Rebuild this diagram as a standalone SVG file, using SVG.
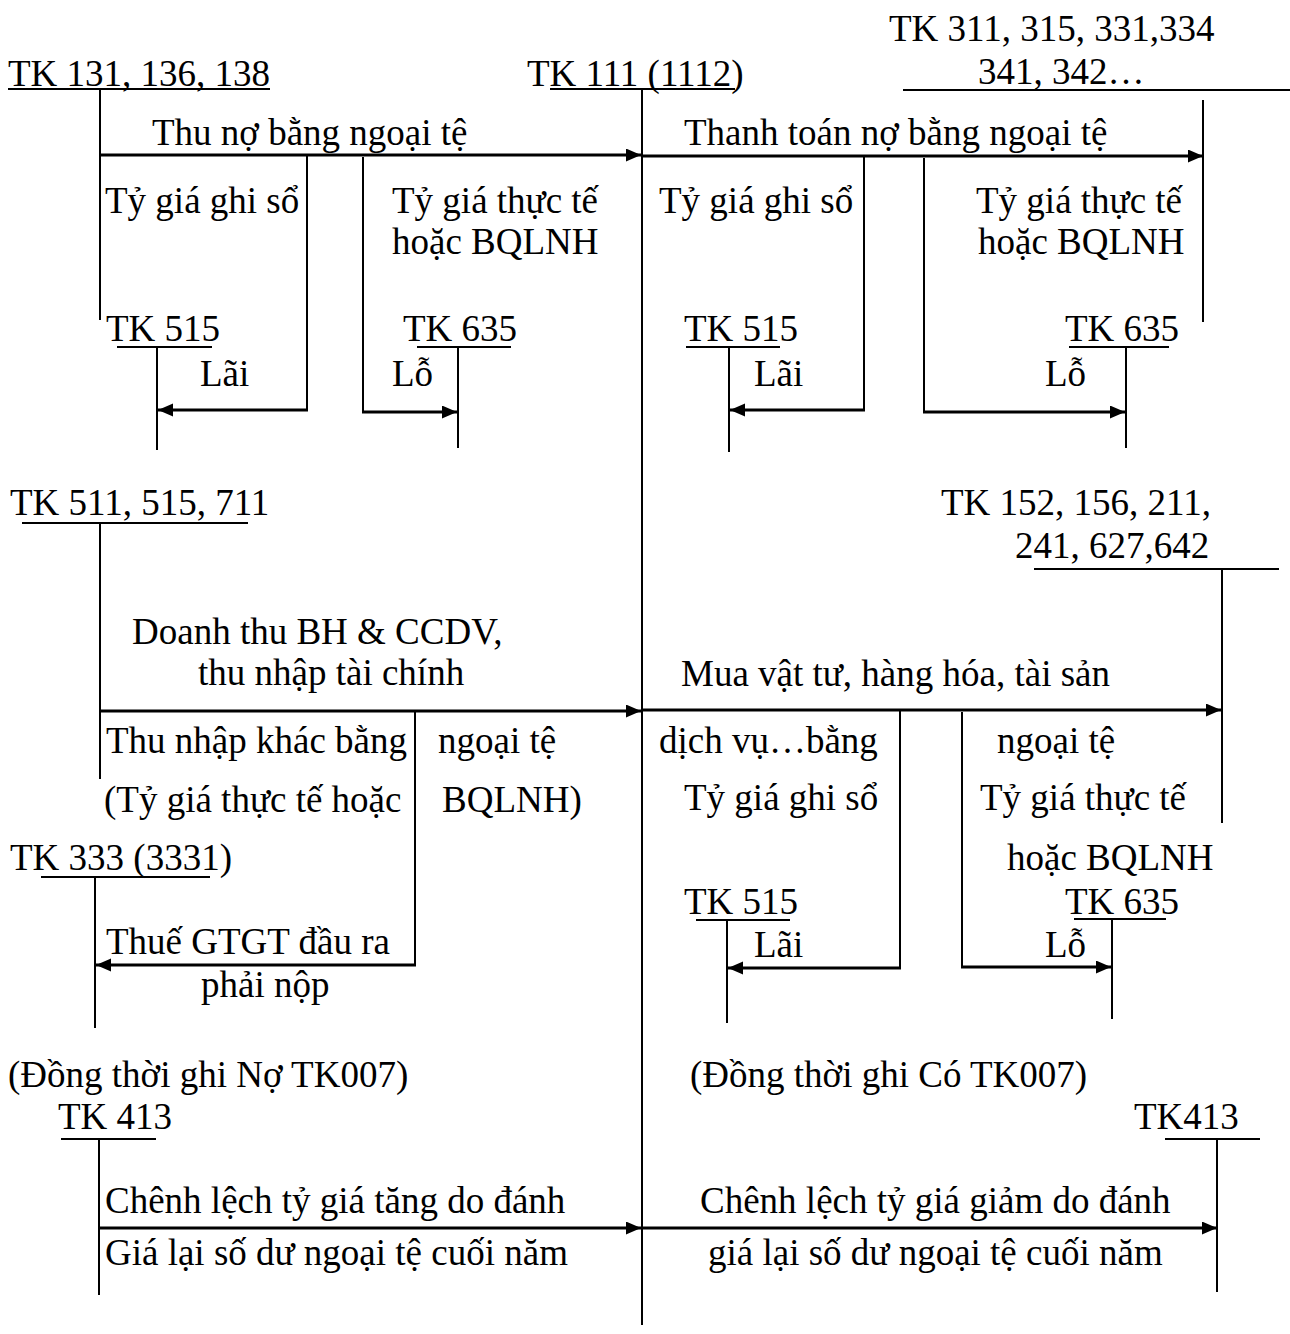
<svg xmlns="http://www.w3.org/2000/svg" width="1290" height="1334" viewBox="0 0 1290 1334">
<style>
text{font-family:"Liberation Serif","Times New Roman",serif;font-size:37px;fill:#000}
.ac{stroke:#000;stroke-width:2;fill:none}
.ar{stroke:#000;stroke-width:3;fill:none;marker-end:url(#ah)}
.br{stroke:#000;stroke-width:2;fill:none}
</style>
<defs>
<marker id="ah" markerUnits="userSpaceOnUse" markerWidth="16" markerHeight="14" refX="15" refY="6.5" orient="auto">
<path d="M0,0 L15,6.5 L0,13 z" fill="#000"/>
</marker>
</defs>
<rect width="1290" height="1334" fill="#fff"/>

<g id="tk131">
<text x="8" y="86">TK 131, 136, 138</text>
<line class="ac" x1="8" y1="89" x2="270" y2="89"/>
<line class="ac" x1="100" y1="88" x2="100" y2="320"/>
</g>
<g id="tk111">
<text x="527" y="86">TK 111 (1112)</text>
<line class="ac" x1="550" y1="89" x2="735" y2="89"/>
<line class="ac" x1="642" y1="88" x2="642" y2="1325"/>
</g>
<g id="tk311">
<text x="889" y="41">TK 311, 315, 331,334</text>
<text x="978" y="84">341, 342…</text>
<line class="ac" x1="903" y1="90" x2="1290" y2="90"/>
<line class="ac" x1="1203" y1="100" x2="1203" y2="322"/>
</g>
<g id="tk515a">
<text x="106" y="341">TK 515</text>
<line class="ac" x1="117" y1="347" x2="212" y2="347"/>
<line class="ac" x1="157" y1="347" x2="157" y2="450"/>
</g>
<g id="tk635a">
<text x="403" y="341">TK 635</text>
<line class="ac" x1="417" y1="347" x2="511" y2="347"/>
<line class="ac" x1="458" y1="347" x2="458" y2="448"/>
</g>
<g id="tk515b">
<text x="684" y="341">TK 515</text>
<line class="ac" x1="686" y1="347" x2="780" y2="347"/>
<line class="ac" x1="729" y1="347" x2="729" y2="452"/>
</g>
<g id="tk635b">
<text x="1065" y="341">TK 635</text>
<line class="ac" x1="1069" y1="347" x2="1169" y2="347"/>
<line class="ac" x1="1126" y1="347" x2="1126" y2="448"/>
</g>
<g id="tk511">
<text x="10" y="515">TK 511, 515, 711</text>
<line class="ac" x1="22" y1="523" x2="248" y2="523"/>
<line class="ac" x1="100" y1="523" x2="100" y2="779"/>
</g>
<g id="tk152">
<text x="941" y="515">TK 152, 156, 211,</text>
<text x="1015" y="558">241, 627,642</text>
<line class="ac" x1="1034" y1="569" x2="1279" y2="569"/>
<line class="ac" x1="1222" y1="569" x2="1222" y2="823"/>
</g>
<g id="tk333">
<text x="10" y="870">TK 333 (3331)</text>
<line class="ac" x1="41" y1="877" x2="210" y2="877"/>
<line class="ac" x1="95" y1="877" x2="95" y2="1028"/>
</g>
<g id="tk515c">
<text x="684" y="914">TK 515</text>
<line class="ac" x1="696" y1="920" x2="790" y2="920"/>
<line class="ac" x1="727" y1="920" x2="727" y2="1023"/>
</g>
<g id="tk635c">
<text x="1065" y="914">TK 635</text>
<line class="ac" x1="1074" y1="919" x2="1166" y2="919"/>
<line class="ac" x1="1112" y1="919" x2="1112" y2="1019"/>
</g>
<g id="tk413a">
<text x="58" y="1129">TK 413</text>
<line class="ac" x1="61" y1="1139" x2="156" y2="1139"/>
<line class="ac" x1="99" y1="1139" x2="99" y2="1295"/>
</g>
<g id="tk413b">
<text x="1134" y="1129">TK413</text>
<line class="ac" x1="1165" y1="1139" x2="1260" y2="1139"/>
<line class="ac" x1="1217" y1="1139" x2="1217" y2="1292"/>
</g>

<g id="connectors">
<line class="ar" x1="100" y1="155" x2="641" y2="155"/>
<line class="ar" x1="642" y1="156" x2="1203" y2="156"/>
<polyline class="br" points="307,155 307,410"/>
<line class="ar" x1="308" y1="410" x2="158" y2="410"/>
<polyline class="br" points="363,157 363,412"/>
<line class="ar" x1="362" y1="412" x2="457" y2="412"/>
<polyline class="br" points="864,156 864,410"/>
<line class="ar" x1="865" y1="410" x2="730" y2="410"/>
<polyline class="br" points="924,158 924,412"/>
<line class="ar" x1="923" y1="412" x2="1125" y2="412"/>
<line class="ar" x1="100" y1="711" x2="641" y2="711"/>
<line class="ar" x1="642" y1="710" x2="1221" y2="710"/>
<polyline class="br" points="415,711 415,965"/>
<line class="ar" x1="416" y1="965" x2="96" y2="965"/>
<polyline class="br" points="900,710 900,968"/>
<line class="ar" x1="901" y1="968" x2="728" y2="968"/>
<polyline class="br" points="962,712 962,967"/>
<line class="ar" x1="961" y1="967" x2="1111" y2="967"/>
<line class="ar" x1="100" y1="1228" x2="641" y2="1228"/>
<line class="ar" x1="642" y1="1228" x2="1217" y2="1228"/>
</g>

<g id="labels">
<text x="152" y="145">Thu nợ bằng ngoại tệ</text>
<text x="684" y="145">Thanh toán nợ bằng ngoại tệ</text>
<text x="105" y="213">Tỷ giá ghi sổ</text>
<text x="392" y="213">Tỷ giá thực tế</text>
<text x="392" y="254">hoặc BQLNH</text>
<text x="659" y="213">Tỷ giá ghi sổ</text>
<text x="976" y="213">Tỷ giá thực tế</text>
<text x="978" y="254">hoặc BQLNH</text>
<text x="200" y="386">Lãi</text>
<text x="392" y="386">Lỗ</text>
<text x="754" y="386">Lãi</text>
<text x="1045" y="386">Lỗ</text>
<text x="132" y="644">Doanh thu BH &amp; CCDV,</text>
<text x="198" y="685">thu nhập tài chính</text>
<text x="106" y="753">Thu nhập khác bằng</text>
<text x="438" y="753">ngoại tệ</text>
<text x="104" y="812">(Tỷ giá thực tế hoặc</text>
<text x="442" y="812">BQLNH)</text>
<text x="106" y="954">Thuế GTGT đầu ra</text>
<text x="201" y="997">phải nộp</text>
<text x="681" y="686">Mua vật tư, hàng hóa, tài sản</text>
<text x="659" y="753">dịch vụ…bằng</text>
<text x="997" y="753">ngoại tệ</text>
<text x="684" y="810">Tỷ giá ghi sổ</text>
<text x="980" y="810">Tỷ giá thực tế</text>
<text x="1007" y="870">hoặc BQLNH</text>
<text x="754" y="957">Lãi</text>
<text x="1045" y="957">Lỗ</text>
<text x="8" y="1087">(Đồng thời ghi Nợ TK007)</text>
<text x="690" y="1087">(Đồng thời ghi Có TK007)</text>
<text x="105" y="1213">Chênh lệch tỷ giá tăng do đánh</text>
<text x="105" y="1265">Giá lại số dư ngoại tệ cuối năm</text>
<text x="700" y="1213">Chênh lệch tỷ giá giảm do đánh</text>
<text x="708" y="1265">giá lại số dư ngoại tệ cuối năm</text>
</g>
</svg>
